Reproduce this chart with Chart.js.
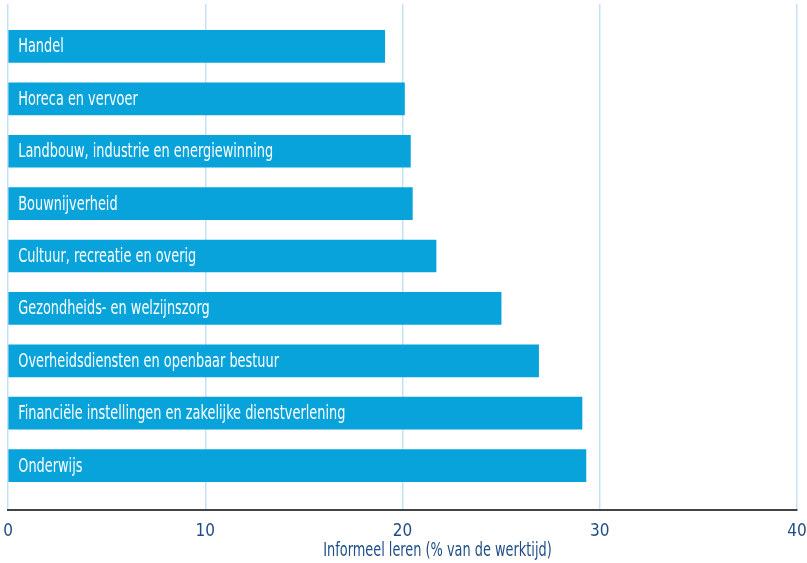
<!DOCTYPE html>
<html>
<head>
<meta charset="utf-8">
<script src="https://cdn.jsdelivr.net/npm/chart.js@4"></script>
<style>
  html, body { margin: 0; padding: 0; background: #fff; }
</style>
</head>
<body>
<canvas id="grafico" width="807" height="563"></canvas>
<script>
const sectoren = [
  "Handel",
  "Horeca en vervoer",
  "Landbouw, industrie en energiewinning",
  "Bouwnijverheid",
  "Cultuur, recreatie en overig",
  "Gezondheids- en welzijnszorg",
  "Overheidsdiensten en openbaar bestuur",
  "Financiële instellingen en zakelijke dienstverlening",
  "Onderwijs"
];
const informeelLeren = [19.1, 20.1, 20.4, 20.5, 21.7, 25.0, 26.9, 29.1, 29.3];
const xTicks = [0, 10, 20, 30, 40];
const asTitel = "Informeel leren (% van de werktijd)";

const lettertype = '"DejaVu Sans Condensed", "Liberation Sans", sans-serif';
const donkerblauw = "#1e4d86";
const smaller = 0.755;

// sectornaam wit in de balk, horizontaal smaller gezet
const balkLabels = {
  id: "balkLabels",
  afterDatasetsDraw(chart) {
    const ctx = chart.ctx;
    const meta = chart.getDatasetMeta(0);
    ctx.save();
    ctx.fillStyle = "#fff";
    ctx.font = "19px " + lettertype;
    ctx.textBaseline = "middle";
    meta.data.forEach((bar, i) => {
      ctx.save();
      ctx.translate(bar.base + 9.5, bar.y + 1);
      ctx.scale(smaller, 1);
      ctx.fillText(sectoren[i], 0, 0);
      ctx.restore();
    });
    ctx.restore();
  }
};

// astitel onder de x-as
const asLabel = {
  id: "asLabel",
  afterDraw(chart) {
    const ctx = chart.ctx;
    const area = chart.chartArea;
    ctx.save();
    ctx.fillStyle = donkerblauw;
    ctx.font = "19px " + lettertype;
    ctx.textAlign = "center";
    ctx.textBaseline = "middle";
    ctx.translate((area.left + area.right) / 2 + 35, 551);
    ctx.scale(smaller, 1);
    ctx.fillText(asTitel, 0, 0);
    ctx.restore();
  }
};

const ctx = document.getElementById("grafico").getContext("2d");

new Chart(ctx, {
  type: "bar",
  data: {
    datasets: [
      {
        data: sectoren.map((s, i) => ({ x: informeelLeren[i], y: i })),
        backgroundColor: "#07a3da",
        barThickness: 32
      }
    ]
  },
  options: {
    indexAxis: "y",
    responsive: false,
    animation: false,
    layout: { padding: { left: 8, right: 10, top: 4, bottom: 9 } },
    plugins: {
      legend: { display: false },
      tooltip: { enabled: false }
    },
    scales: {
      y: {
        type: "linear",
        reverse: true,
        offset: false,
        min: -0.81,
        max: 8.84,
        display: false
      },
      x: {
        type: "linear",
        min: 0,
        max: 40,
        afterBuildTicks: (axis) => {
          axis.ticks = xTicks.map((v) => ({ value: v }));
        },
        afterFit: (axis) => {
          axis.paddingLeft = 0;
          axis.paddingRight = 0;
        },
        grid: { color: "#c3e2f4", lineWidth: 1.5, drawTicks: false },
        border: { color: "#444", width: 2 },
        ticks: {
          color: donkerblauw,
          font: { family: lettertype, size: 17 },
          padding: 12
        }
      }
    }
  },
  plugins: [balkLabels, asLabel]
});
</script>
</body>
</html>
